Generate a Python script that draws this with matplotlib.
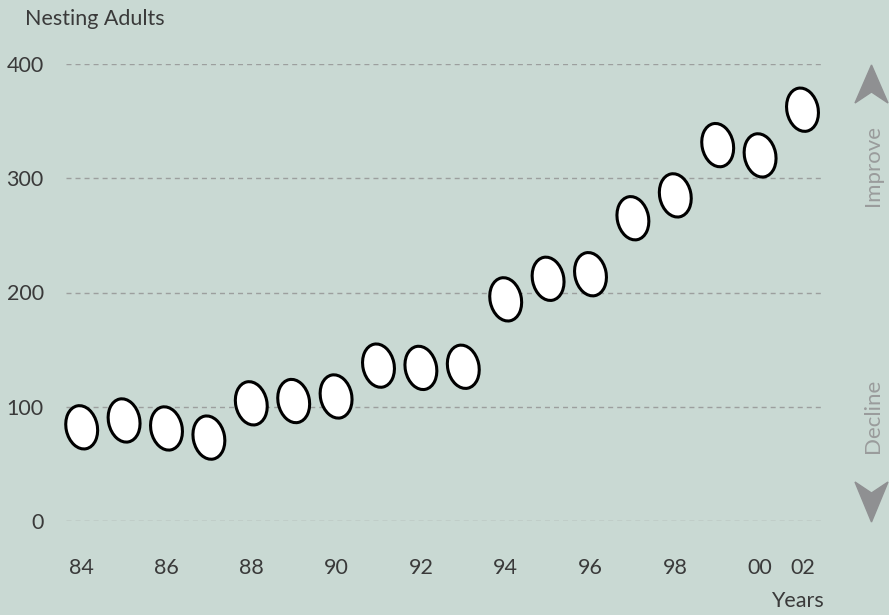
import numpy as np
import matplotlib
matplotlib.use("Agg")
import matplotlib.pyplot as plt
from matplotlib.collections import EllipseCollection
from matplotlib.patches import Polygon

years = ["84", "85", "86", "87", "88", "89", "90", "91", "92", "93",
         "94", "95", "96", "97", "98", "99", "00", "02"]
adults = [82, 88, 81, 73, 103, 105, 109, 136, 134, 135,
          194, 212, 216, 265, 285, 329, 320, 360]
tick_labels = ["84", "86", "88", "90", "92", "94", "96", "98", "00", "02"]
y_ticks = [0, 100, 200, 300, 400]

bg = "#c9d9d3"
txt = "#3a3a3a"
grey = "#8f9092"

plt.rcParams['font.family'] = ['Lato', 'DejaVu Sans']

fig = plt.figure(figsize=(8.89, 6.15), dpi=100, facecolor=bg)
ax = fig.add_axes([66 / 889, 94 / 615, 756 / 889, 457 / 615])
ax.set_facecolor(bg)

x = np.arange(len(years))
ax.set_xlim(-0.37, 17.46)
ax.set_ylim(0, 400)

# dashed grid lines
for v in y_ticks:
    ax.axhline(v, color="#9c9f9e", lw=1.0, dashes=(3.6, 2.9), zorder=1)

# egg markers
eggs = EllipseCollection(np.full(len(x), 22.5), np.full(len(x), 31.5),
                         np.full(len(x), 12.0), units='points',
                         offsets=np.column_stack([x, adults]),
                         offset_transform=ax.transData,
                         facecolors="white", edgecolors="black",
                         linewidths=2.2, zorder=3, clip_on=False)
ax.add_collection(eggs)

tick_pos = [years.index(t) for t in tick_labels]
ax.set_xticks(tick_pos)
ax.set_xticklabels(tick_labels)
ax.set_yticks(y_ticks)
ax.tick_params(length=0, labelsize=15.5, labelcolor=txt)
ax.tick_params(axis='x', pad=27)
ax.tick_params(axis='y', pad=16)
for s in ax.spines.values():
    s.set_visible(False)

fig.text(25 / 889, 1 - 19 / 615, "Nesting Adults", fontsize=15.5, color=txt,
         ha='left', va='center')
fig.text(824 / 889, 1 - 601 / 615, "Years", fontsize=15.5, color=txt,
         ha='right', va='center')

# improve / decline indicators
fig.text(873 / 889, 1 - 166 / 615, "Improve", fontsize=16, color="#9a9c9c",
         rotation=90, ha='center', va='center')
fig.text(873 / 889, 1 - 416 / 615, "Decline", fontsize=16, color="#9a9c9c",
         rotation=90, ha='center', va='center')

def px(pts):
    return [(a / 889, 1 - b / 615) for a, b in pts]

up = Polygon(px([(871.5, 65), (888, 103), (871.5, 92), (855, 103)]),
             closed=True, transform=fig.transFigure, color=grey)
down = Polygon(px([(871.5, 522), (888, 482), (871.5, 493), (855, 482)]),
               closed=True, transform=fig.transFigure, color=grey)
fig.patches.extend([up, down])

fig.savefig("out.png", dpi=100, facecolor=bg)
